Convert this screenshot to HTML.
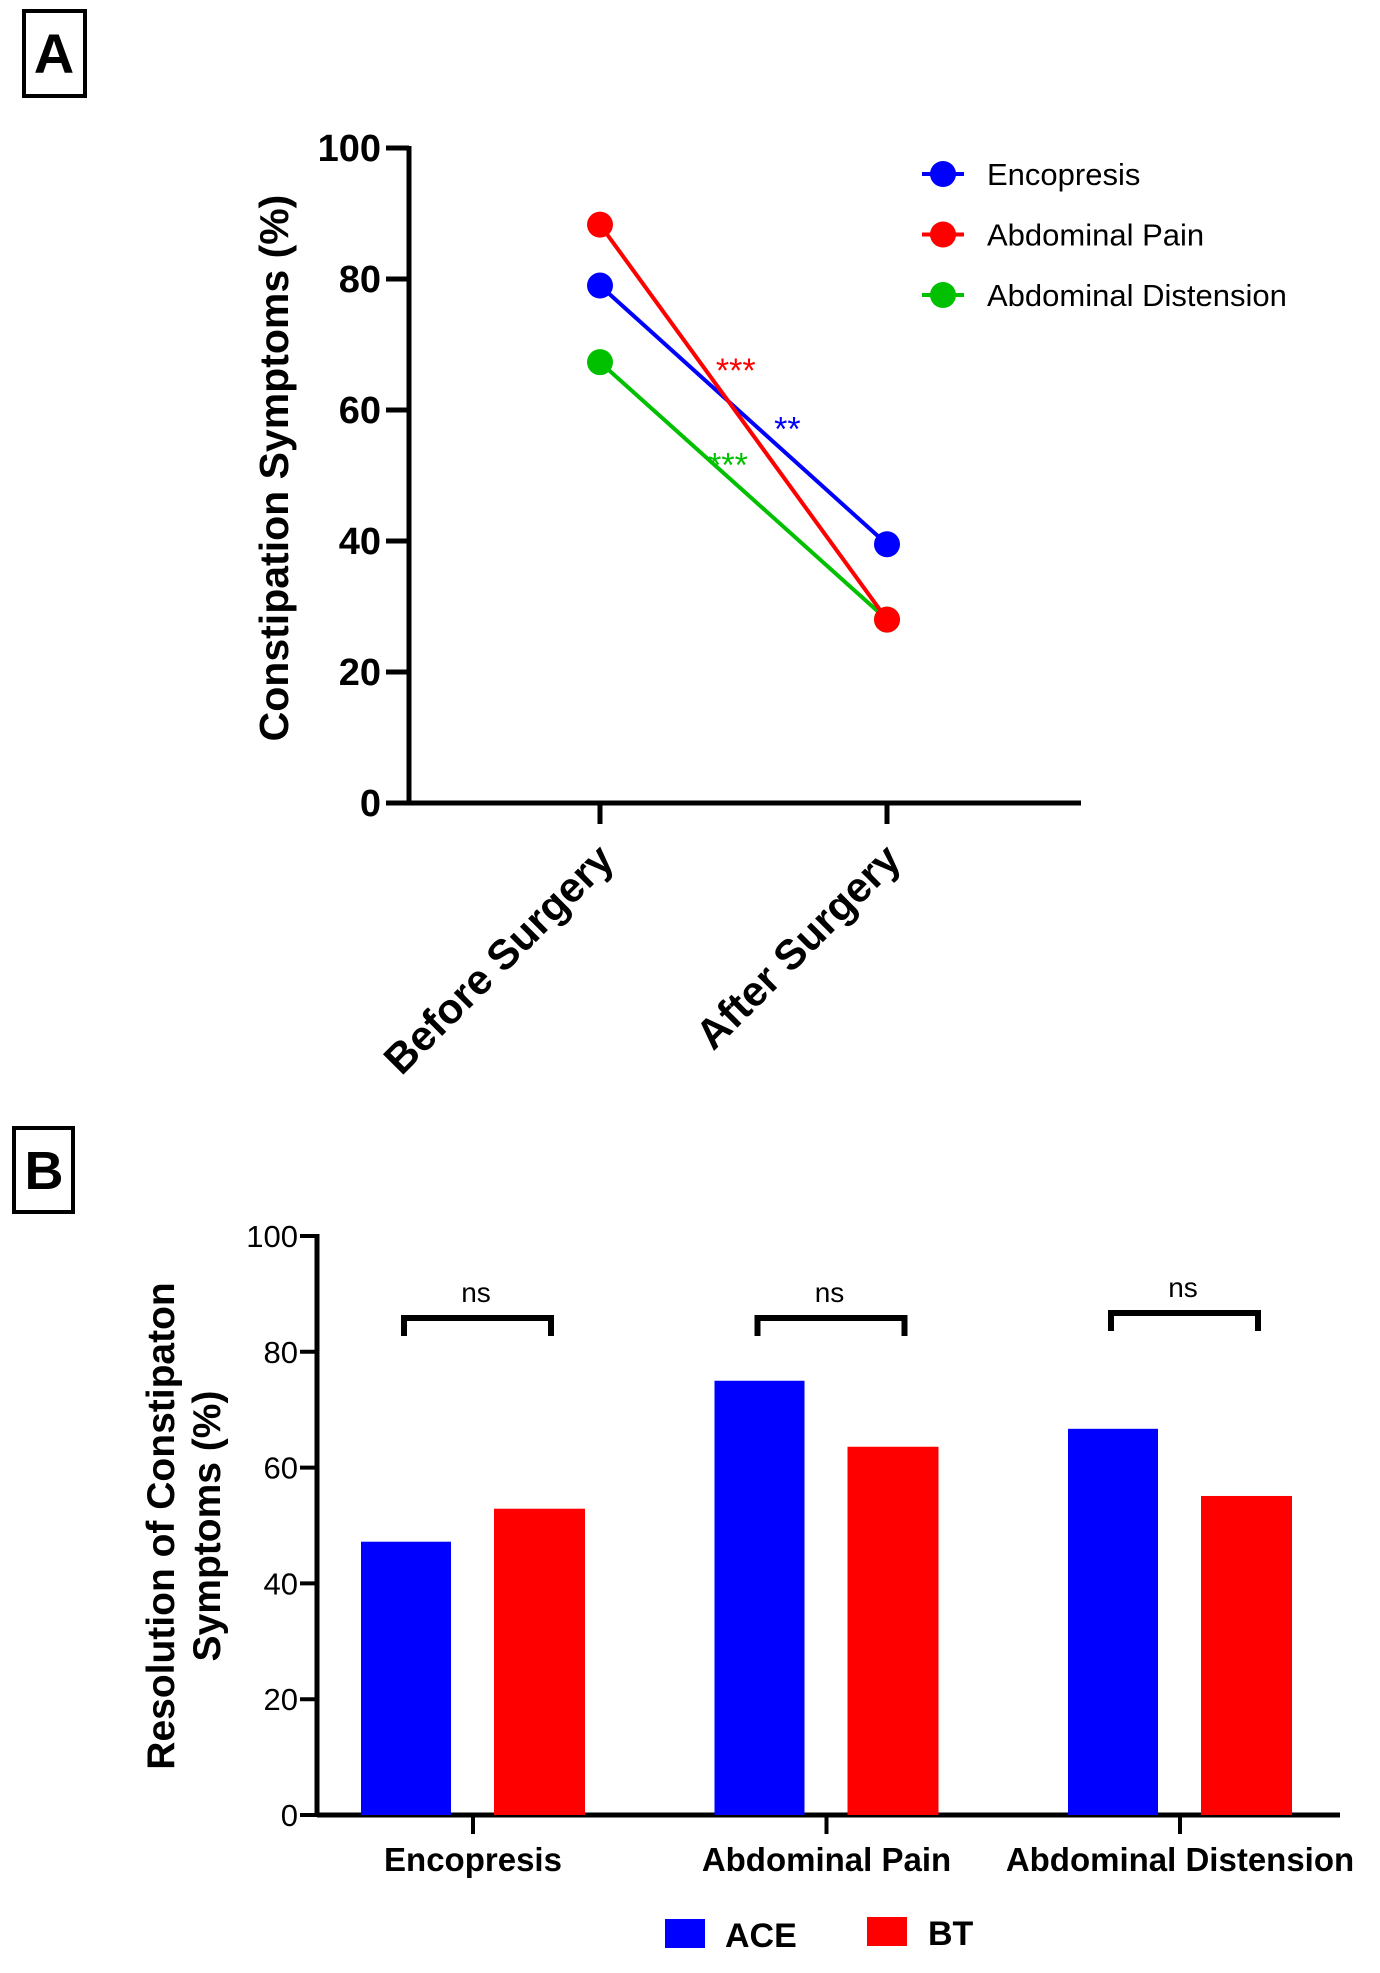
<!DOCTYPE html>
<html><head><meta charset="utf-8"><style>
body{margin:0;background:#fff}
svg{display:block;font-family:"Liberation Sans",Arial,sans-serif}
</style></head><body>
<svg id="fig" width="1380" height="1973" viewBox="0 0 1380 1973" xmlns="http://www.w3.org/2000/svg">
<rect x="24" y="11" width="61" height="85" fill="none" stroke="#000" stroke-width="4"/>
<text x="54" y="73" font-size="56" font-weight="bold" text-anchor="middle">A</text>
<rect x="14" y="1128" width="59" height="84" fill="none" stroke="#000" stroke-width="4"/>
<text x="44" y="1189" font-size="54" font-weight="bold" text-anchor="middle">B</text>
<g id="a"></g><g id="b"></g>
</svg>
<script>
// Panel A data
const aCats=["Before Surgery","After Surgery"];
const aSeriesNames=["Encopresis","Abdominal Pain","Abdominal Distension"];
const encVals=[79,39.5];
const painVals=[88.3,28];
const distVals=[67.3,28];
const aYTicks=[0,20,40,60,80,100];
const aStars=["**","***","***"];
// Panel B data
const bCats=["Encopresis","Abdominal Pain","Abdominal Distension"];
const aceVals=[47.2,75,66.7];
const btVals=[52.9,63.6,55.1];
const bYTicks=[0,20,40,60,80,100];
const bSig=["ns","ns","ns"];

const NS="http://www.w3.org/2000/svg";
function mk(parent,tag,attrs,text){const e=document.createElementNS(NS,tag);for(const k in attrs)e.setAttribute(k,attrs[k]);if(text!==undefined)e.textContent=text;parent.appendChild(e);return e;}

// ---- Panel A
const A=document.getElementById('a');
const ay=v=>803-(v/100)*(803-148);
const ax=i=>600+i*287;
let e;
e=mk(A,'line',{x1:409,y1:146,x2:409,y2:805,stroke:'#000','stroke-width':5});

e=mk(A,'line',{x1:386,y1:803,x2:1081,y2:803,stroke:'#000','stroke-width':5});

aYTicks.forEach(t=>{
 e=mk(A,'line',{x1:386,y1:ay(t),x2:409,y2:ay(t),stroke:'#000','stroke-width':5});
 
 e=mk(A,'text',{x:381,y:ay(t)+13,'font-size':38,'font-weight':'bold','text-anchor':'end'},t);
 
});
aCats.forEach((c,i)=>{
 e=mk(A,'line',{x1:ax(i),y1:803,x2:ax(i),y2:824,stroke:'#000','stroke-width':5});
 
 e=mk(A,'text',{x:ax(i)+16,y:862,'font-size':42,'font-weight':'bold','text-anchor':'end',transform:`rotate(-45 ${ax(i)+16} 862)`},c);
 
});
e=mk(A,'text',{x:0,y:0,'font-size':41,'font-weight':'bold','text-anchor':'middle',transform:'translate(288 468) rotate(-90)'},'Constipation Symptoms (%)');

const aSeries=[[encVals,'#0000ff'],[painVals,'#ff0000'],[distVals,'#00c000']];
[2,0,1].forEach(s=>{
 const [vals,col]=aSeries[s];
 e=mk(A,'line',{x1:ax(0),y1:ay(vals[0]),x2:ax(1),y2:ay(vals[1]),stroke:col,'stroke-width':4});
 
});
[2,0,1].forEach(s=>{
 const [vals,col]=aSeries[s];
 vals.forEach((v,i)=>{
  e=mk(A,'circle',{cx:ax(i),cy:ay(v),r:13,fill:col});
  
 });
});
// significance annotations (positions relative to line midpoints)
const starOff=[[0.66,-2,-38],[0.48,-2,-54],[0.46,-4,-26]];
aSeries.forEach(([vals,col],s)=>{
 const f=starOff[s][0];
 const x=ax(0)+f*(ax(1)-ax(0))+starOff[s][1];
 const y=ay(vals[0]+f*(vals[1]-vals[0]))+starOff[s][2];
 e=mk(A,'text',{x:x,y:y+22,'font-size':34,fill:col,'text-anchor':'middle'},aStars[s]);
 
});
aSeries.forEach(([vals,col],s)=>{
 const y=174+s*60.5;
 e=mk(A,'line',{x1:922,y1:y,x2:964,y2:y,stroke:col,'stroke-width':4});
 
 e=mk(A,'circle',{cx:943,cy:y,r:13,fill:col});
 
 e=mk(A,'text',{x:987,y:y+11,'font-size':31},aSeriesNames[s]);
 
});

// ---- Panel B
const B=document.getElementById('b');
const by=v=>1815-(v/100)*(1815-1236);
const bx=i=>473+i*353.5;
e=mk(B,'line',{x1:317,y1:1234,x2:317,y2:1817,stroke:'#000','stroke-width':5});

e=mk(B,'line',{x1:317,y1:1815,x2:1340,y2:1815,stroke:'#000','stroke-width':5});

bYTicks.forEach(t=>{
 e=mk(B,'line',{x1:300,y1:by(t),x2:317,y2:by(t),stroke:'#000','stroke-width':4});
 
 e=mk(B,'text',{x:298,y:by(t)+11,'font-size':31,'text-anchor':'end'},t);
 
});
bCats.forEach((c,i)=>{
 const x=bx(i);
 e=mk(B,'rect',{x:x-112,y:by(aceVals[i]),width:90,height:1815-by(aceVals[i]),fill:'#0000ff'});
 
 e=mk(B,'rect',{x:x+21,y:by(btVals[i]),width:91,height:1815-by(btVals[i]),fill:'#ff0000'});
 
 e=mk(B,'line',{x1:x,y1:1815,x2:x,y2:1834,stroke:'#000','stroke-width':4});
 
 e=mk(B,'text',{x:x,y:1871,'font-size':33,'font-weight':'bold','text-anchor':'middle'},c);
 
 const top=i===2?1313:1318;
 e=mk(B,'polyline',{points:`${x-69},${top+18} ${x-69},${top} ${x+78},${top} ${x+78},${top+18}`,fill:'none',stroke:'#000','stroke-width':6});
 
 e=mk(B,'text',{x:x+3,y:top-16,'font-size':28,'text-anchor':'middle'},bSig[i]);
 
});
e=mk(B,'text',{x:0,y:0,'font-size':39,'font-weight':'bold','text-anchor':'middle',transform:'translate(174 1526) rotate(-90)'},'Resolution of Constipaton');

e=mk(B,'text',{x:0,y:0,'font-size':39,'font-weight':'bold','text-anchor':'middle',transform:'translate(220 1526) rotate(-90)'},'Symptoms (%)');

e=mk(B,'rect',{x:665,y:1919,width:40,height:29,fill:'#0000ff'});

e=mk(B,'text',{x:725,y:1947,'font-size':34,'font-weight':'bold'},'ACE');

e=mk(B,'rect',{x:867,y:1917,width:40,height:29,fill:'#ff0000'});

e=mk(B,'text',{x:928,y:1945,'font-size':34,'font-weight':'bold'},'BT');

</script>
</body></html>
